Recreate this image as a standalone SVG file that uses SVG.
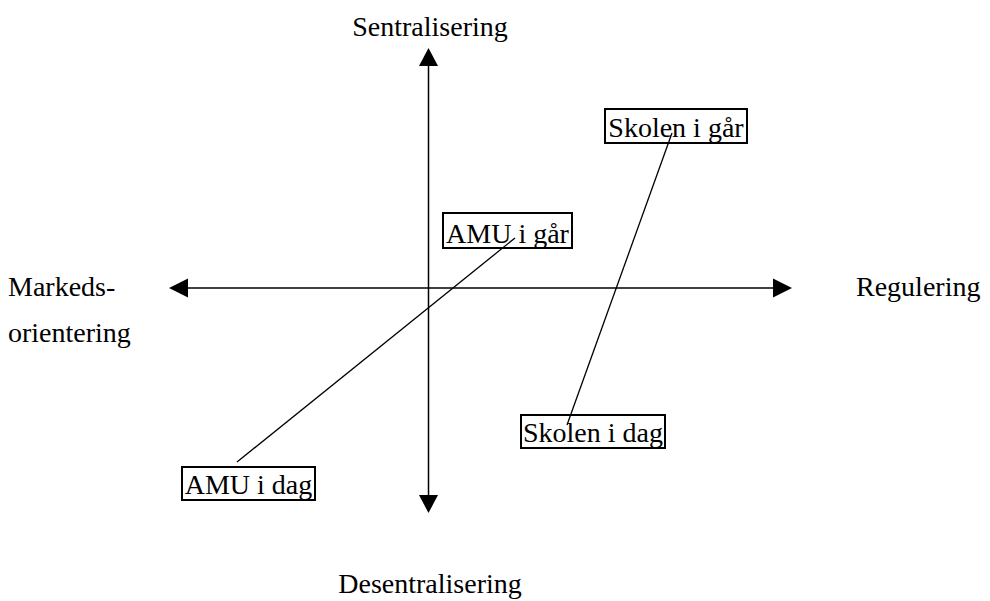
<svg xmlns="http://www.w3.org/2000/svg" width="990" height="601" viewBox="0 0 990 601">
  <style>
    text { font-family: "Liberation Serif", "Times New Roman", serif; font-size: 28px; fill: #000; }
    .axis { stroke: #000; stroke-width: 1.5; fill: none; }
    .link { stroke: #000; stroke-width: 1.3; fill: none; }
    .box { fill: none; stroke: #000; stroke-width: 2; }
    .head { fill: #000; }
  </style>
  <rect width="990" height="601" fill="#fff"/>

  <!-- axes -->
  <g id="axes">
    <line class="axis" x1="428.5" y1="62" x2="428.5" y2="498"/>
    <polygon class="head" points="428.5,48 419,66 438,66"/>
    <polygon class="head" points="428.5,513 419,495 438,495"/>
    <line class="axis" x1="184" y1="288" x2="777" y2="288"/>
    <polygon class="head" points="169,288 188,278.5 188,297.5"/>
    <polygon class="head" points="792,288 773,278.5 773,297.5"/>
  </g>

  <!-- axis labels -->
  <g id="axis-labels">
    <text x="430" y="36" text-anchor="middle">Sentralisering</text>
    <text x="8" y="296">Markeds-</text>
    <text x="8" y="342">orientering</text>
    <text x="856" y="296">Regulering</text>
    <text x="430" y="593" text-anchor="middle">Desentralisering</text>
  </g>

  <!-- connectors between yesterday and today -->
  <g id="connectors">
    <line class="link" x1="672" y1="133" x2="567" y2="425"/>
    <line class="link" x1="515" y1="238" x2="237" y2="462"/>
  </g>

  <g id="skolen-i-gar">
    <rect class="box" x="605" y="109" width="142" height="34"/>
    <text x="676" y="137" text-anchor="middle">Skolen i går</text>
  </g>
  <g id="amu-i-gar">
    <rect class="box" x="443" y="213" width="129" height="35"/>
    <text x="507.5" y="243" text-anchor="middle">AMU i går</text>
  </g>
  <g id="skolen-i-dag">
    <rect class="box" x="521" y="415" width="144" height="33"/>
    <text x="593" y="442" text-anchor="middle">Skolen i dag</text>
  </g>
  <g id="amu-i-dag">
    <rect class="box" x="182" y="467" width="133" height="33"/>
    <text x="248.5" y="494" text-anchor="middle">AMU i dag</text>
  </g>
</svg>
